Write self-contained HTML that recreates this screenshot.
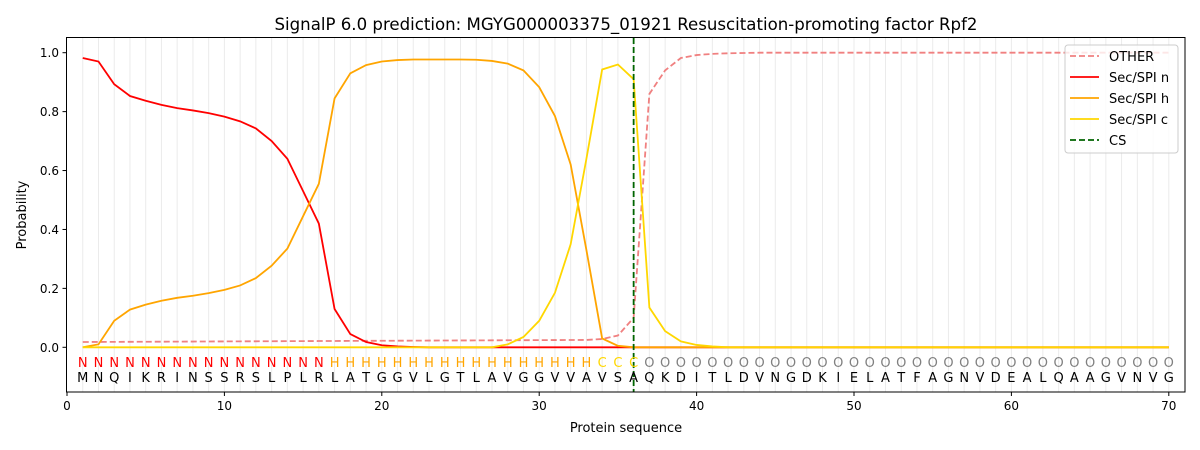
<!DOCTYPE html>
<html><head><meta charset="utf-8"><style>body{margin:0;background:#fff}svg{display:block;font-family:"DejaVu Sans","Liberation Sans",sans-serif}</style></head>
<body><svg id="s" width="1200" height="450" xmlns="http://www.w3.org/2000/svg"></svg>
<script>
const X=i=>67+15.74*i, Y=v=>347.3-294.6*v;
let o='';
for(let i=1;i<=70;i++)o+=`<line x1="${X(i)}" x2="${X(i)}" y1="38" y2="392" stroke="#ebebeb" stroke-width="1"/>`;
function ser(a,fill){const r=[];for(let i=1;i<=70;i++)r.push(i<=a.length?a[i-1]:fill);return r;}
const n=ser([.982,.97,.893,.853,.837,.823,.812,.804,.795,.783,.767,.743,.70,.64,.53,.42,.13,.045,.018,.007,.003,.001],0);
const h=ser([0,.01,.09,.128,.145,.158,.168,.175,.184,.195,.21,.235,.277,.335,.445,.555,.845,.93,.958,.97,.975,.977,.977,.977,.977,.976,.972,.963,.94,.883,.785,.62,.33,.03,.005],0);
const c=ser([0,0,0,0,0,0,0,0,0,0,0,0,0,0,0,0,0,0,0,0,0,0,0,0,0,0,0,.01,.035,.09,.185,.35,.64,.943,.96,.91,.135,.055,.02,.008,.003],0);
const ot=[];for(let i=1;i<=33;i++)ot.push(.018+.007*(i-1)/32);
const other=ser(ot.concat([.028,.04,.1,.86,.94,.982,.992,.996,.998,.999]),1.0);
const pl=(a,col,d)=>`<polyline fill="none" stroke="${col}" stroke-width="1.8" ${d||''} points="${a.map((v,i)=>X(i+1)+','+Y(v)).join(' ')}"/>`;
o+=pl(other,'#f08080','stroke-dasharray="6,3"')+pl(n,'#ff0000')+pl(h,'#ffa500')+pl(c,'#ffd700');
o+=`<line x1="${X(36)}" x2="${X(36)}" y1="38" y2="392" stroke="#006400" stroke-width="1.8" stroke-dasharray="6,3"/>`;
const seq="MNQIKRINSSRSLPLRLATGGVLGTLAVGGVVAVSAQKDITLDVNGDKIELATFAGNVDEALQAAGVNVG";
for(let i=1;i<=70;i++){let l,col;if(i<=16){l='N';col='#ff0000'}else if(i<=33){l='H';col='#ffa500'}else if(i<=36){l='C';col='#ffd700'}else{l='O';col='#808080'}
o+=`<text x="${X(i)}" y="367" font-size="13" fill="${col}" text-anchor="middle">${l}</text><text x="${X(i)}" y="382" font-size="13" fill="#000" text-anchor="middle">${seq[i-1]}</text>`;}
o+=`<rect x="66.5" y="37.5" width="1118.5" height="354.5" fill="none" stroke="#000" stroke-width="1"/>`;
for(let k=0;k<=7;k++){const x=X(k*10);o+=`<line x1="${x}" x2="${x}" y1="392" y2="396" stroke="#000"/><text x="${x}" y="410" font-size="12" text-anchor="middle">${k*10}</text>`;}
for(let k=0;k<=5;k++){const v=k*0.2,y=Y(v);o+=`<line x1="62.5" x2="66.5" y1="${y}" y2="${y}" stroke="#000"/><text x="59" y="${y+4.5}" font-size="12" text-anchor="end">${v.toFixed(1)}</text>`;}
o+=`<text x="626" y="432" font-size="13" text-anchor="middle">Protein sequence</text>`;
o+=`<text x="26" y="215" font-size="13" text-anchor="middle" transform="rotate(-90 26 215)">Probability</text>`;
o+=`<text x="626" y="30" font-size="16.6" text-anchor="middle">SignalP 6.0 prediction: MGYG000003375_01921 Resuscitation-promoting factor Rpf2</text>`;
o+=`<rect x="1065" y="45" width="113" height="108" rx="3" fill="#fff" fill-opacity="0.8" stroke="#ccc"/>`;
const lg=[['OTHER','#f08080',1],['Sec/SPI n','#ff0000',0],['Sec/SPI h','#ffa500',0],['Sec/SPI c','#ffd700',0],['CS','#006400',1]];
lg.forEach((e,j)=>{const y=56+j*21;o+=`<line x1="1070" x2="1099" y1="${y}" y2="${y}" stroke="${e[1]}" stroke-width="1.8" ${e[2]?'stroke-dasharray="6,3"':''}/><text x="1109" y="${y+5}" font-size="13">${e[0]}</text>`;});
document.getElementById('s').innerHTML=o;
</script></body></html>
